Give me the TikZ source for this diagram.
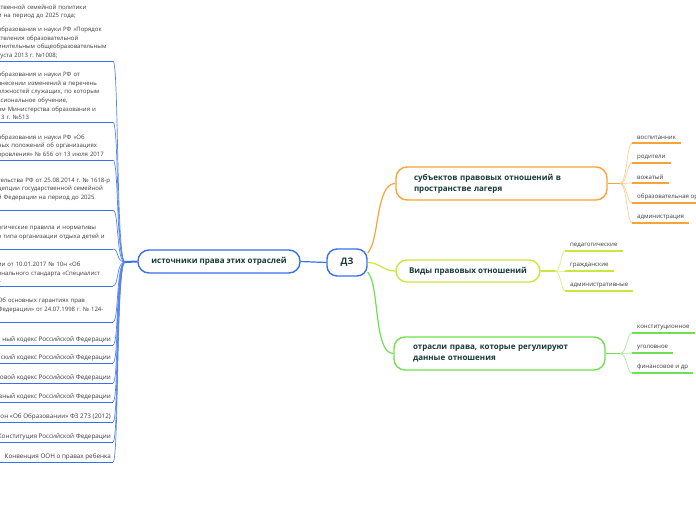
\documentclass[tikz,border=0pt]{standalone}
\usepackage{fontspec}
\setmainfont{Open Sans}
\usetikzlibrary{positioning}
\definecolor{mapblue}{HTML}{3A6FEA}
\definecolor{topicink}{HTML}{163A37}
\definecolor{leafink}{HTML}{3A3A3A}
\definecolor{maporange}{HTML}{F6A437}
\definecolor{mapyellow}{HTML}{C9E83E}
\definecolor{mapgreen}{HTML}{70E050}

\begin{document}
\frenchspacing
\begin{tikzpicture}[x=1pt, y=-1pt,
		every node/.style={font=\fontsize{6.1}{8.6}\selectfont, text=leafink},
		topic/.style={draw, line width=1.4pt, rounded corners=11pt, fill=white, text=topicink, font=\fontsize{8}{11}\selectfont\bfseries, inner sep=0pt, align=left},
		leftleaf/.style={anchor=south east, align=left, inner xsep=2pt, inner ysep=2pt, font=\fontsize{6.3}{8.6}\selectfont},
		leftblock/.style={leftleaf, text width=120pt, inner xsep=0pt, font=\fontsize{6.0}{8.6}\selectfont},
		rightleaf/.style={anchor=south west, align=left, inner xsep=5pt, inner ysep=3pt},
		leftline/.style={mapblue, line width=0.9pt},
		leftlink/.style={mapblue!85, line width=0.7pt}
	]
	\useasboundingbox (0,0) rectangle (696,520);
	\clip (0,0) rectangle (696,520);

	% Central node and main branches
	\node[topic, draw=mapblue, minimum width=40pt, minimum height=27pt, rounded corners=10pt, font=\fontsize{9}{11}\selectfont\bfseries, align=center] (dz) at (347,262.5) {ДЗ};
	\node[topic, draw=mapblue, minimum width=162pt, minimum height=23pt, align=center] (src) at (219,261.5) {источники права этих отраслей};
	\node[topic, draw=maporange, text width=175pt, inner xsep=18pt, minimum height=33pt] (subj) at (501.5,183.5) {субъектов правовых отношений в\\пространстве лагеря};
	\node[topic, draw=mapyellow, minimum width=144pt, minimum height=22pt, align=center] (kinds) at (468,271) {Виды правовых отношений};
	\node[topic, draw=mapgreen, text width=173pt, inner xsep=19pt, minimum height=33pt] (fields) at (499.5,353.5) {отрасли права, которые регулируют\\данные отношения};

	\draw[mapblue, line width=1.2pt] (dz.west) -- (src.east);
	\draw[maporange, line width=1.2pt] (dz.25) .. controls +(12,-12) and +(-20,0) .. (subj.west);
	\draw[mapyellow, line width=1.2pt] (dz.east) .. controls +(12,0) and +(-12,0) .. (kinds.west);
	\draw[mapgreen, line width=1.2pt] (dz.-25) .. controls +(12,12) and +(-20,0) .. (fields.west);

	% Sources (left side, cut by the page edge)
	\node[leftblock] (law1) at (118,61) {ственной семейной политики\\и на период до 2025 года;\\[5pt]образования и науки РФ «Порядок\\ствления образовательной\\инительным общеобразовательным\\густа 2013 г. №1008;};
	\node[leftblock] (law2) at (118,122) {образования и науки РФ от\\внесении изменений в перечень\\олжностей служащих, по которым\\ссиональное обучение,\\ом Министерства образования и\\13 г. №513};
	\node[leftblock] (law3) at (118,160) {образования и науки РФ «Об\\ных положений об организациях\\оровления» № 656 от 13 июля 2017};
	\node[leftblock] (law4) at (118,210) {тельства РФ от 25.08.2014 г. № 1618-р\\цепции государственной семейной\\й Федерации на период до 2025\\~};
	\node[leftblock] (law5) at (118,249) {огические правила и нормативы\\о типа организации отдыха детей и\\~};
	\node[leftblock] (law6) at (118,286) {ии от 10.01.2017 № 10н «Об\\онального стандарта «Специалист\\»};
	\node[leftblock] (law7) at (118,322) {Об основных гарантиях прав\\Федерации» от 24.07.1998 г. № 124-\\~};
	\node[leftleaf] (law8) at (113,345) {ный кодекс Российской Федерации};
	\node[leftleaf] (law9) at (113,363) {ский кодекс Российской Федерации};
	\node[leftleaf] (law10) at (113,383) {овой кодекс Российской Федерации};
	\node[leftleaf] (law11) at (113,402) {вный кодекс Российской Федерации};
	\node[leftleaf] (law12) at (113,422) {он «Об Образовании» ФЗ 273 (2012)};
	\node[leftleaf] (law13) at (113,442) {Конституция Российской Федерации};
	\node[leftleaf] (law14) at (113,462) {Конвенция ООН о правах ребенка};

	% Link ends of the text blocks (their right edge lies past the text)
	\foreach \i in {1,...,7}
		\coordinate (end\i) at ([xshift=-5pt]law\i.south east);
	\foreach \i in {8,...,14}
		\coordinate (end\i) at (law\i.south east);

	\coordinate (hubL) at (125,262);
	\draw[mapblue, line width=2pt] (src.west) -- (hubL);
	\foreach \i in {1,...,14} {
		\draw[leftline] (end\i) -- ++(-125,0);
		\draw[leftlink] (hubL) .. controls +(-9,0) and +(6,0) .. (end\i);
	}

	% Subjects (orange)
	\node[rightleaf] (who1) at (632,143) {воспитанник};
	\node[rightleaf] (who2) at (632,163) {родители};
	\node[rightleaf] (who3) at (632,183) {вожатый};
	\node[rightleaf] (who4) at (632,203) {образовательная ор};
	\node[rightleaf] (who5) at (632,223) {администрация};
	\coordinate (hubO) at (620,183.5);
	\draw[maporange, line width=1.4pt] (subj.east) -- (hubO);
	\foreach \i in {1,...,5} {
		\draw[maporange, line width=1.4pt] (who\i.south west) -- (who\i.south east);
		\draw[maporange!55, line width=0.7pt] (hubO) .. controls +(7,0) and +(-5,0) .. (who\i.south west);
	}

	% Kinds (yellow)
	\node[rightleaf] (kind1) at (565,251) {педагогические};
	\node[rightleaf] (kind2) at (565,271) {гражданские};
	\node[rightleaf] (kind3) at (565,291) {административные};
	\coordinate (hubY) at (555,271);
	\draw[mapyellow, line width=1.4pt] (kinds.east) -- (hubY);
	\foreach \i in {1,...,3} {
		\draw[mapyellow, line width=1.4pt] (kind\i.south west) -- (kind\i.south east);
		\draw[mapyellow!70, line width=0.7pt] (hubY) .. controls +(6,0) and +(-4,0) .. (kind\i.south west);
	}

	% Fields of law (green)
	\node[rightleaf] (field1) at (632,333) {конституционное};
	\node[rightleaf] (field2) at (632,353) {уголовное};
	\node[rightleaf] (field3) at (632,373) {финансовое и др};
	\coordinate (hubG) at (620,353.5);
	\draw[mapgreen, line width=1.4pt] (fields.east) -- (hubG);
	\foreach \i in {1,...,3} {
		\draw[mapgreen, line width=1.4pt] (field\i.south west) -- (field\i.south east);
		\draw[mapgreen!60, line width=0.7pt] (hubG) .. controls +(7,0) and +(-5,0) .. (field\i.south west);
	}
\end{tikzpicture}
\end{document}
